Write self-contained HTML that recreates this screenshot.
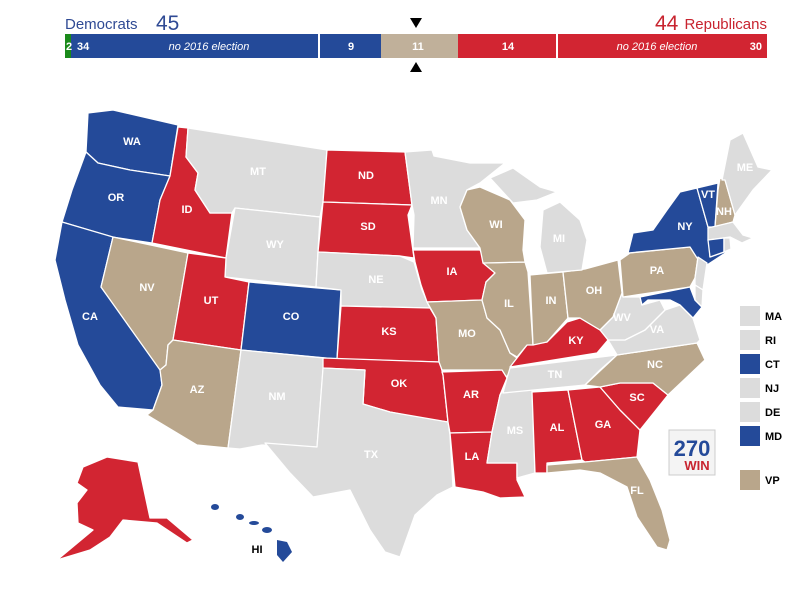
<!DOCTYPE html>
<html><head><meta charset="utf-8"><style>
body{margin:0;width:797px;height:604px;background:#fff;overflow:hidden;font-family:"Liberation Sans",Arial,sans-serif}
.lb{fill:#fff;font-weight:bold;font-size:11px;text-anchor:middle;dominant-baseline:middle}
.s polygon{stroke:#fff;stroke-width:1.3;stroke-linejoin:round}
.b{fill:#244a99}.r{fill:#d22532}.t{fill:#b9a68b}.g{fill:#dcdcdc}
</style></head><body>
<svg width="797" height="604" xmlns="http://www.w3.org/2000/svg">
<text x="65" y="29" font-size="15" fill="#2f4a94">Democrats</text>
<text x="156" y="30" font-size="21" fill="#2f4a94">45</text>
<text x="655" y="30" font-size="21" fill="#c8242f">44</text>
<text x="767" y="29" font-size="15" fill="#c8242f" text-anchor="end">Republicans</text>
<polygon points="410,18 422,18 416,28" fill="#000"/>
<polygon points="410,72 422,72 416,62" fill="#000"/>
<rect x="65" y="34" width="6" height="24" fill="#1a8a1a"/>
<rect x="71" y="34" width="310" height="24" fill="#244a99"/>
<rect x="318" y="34" width="2" height="24" fill="#fff"/>
<rect x="381" y="34" width="77" height="24" fill="#c0b09a"/>
<rect x="458" y="34" width="309" height="24" fill="#d22532"/>
<rect x="556" y="34" width="2" height="24" fill="#fff"/>
<g font-size="11" fill="#fff" font-weight="bold">
<text x="66" y="50">2</text><text x="77" y="50">34</text>
<text x="209" y="50" font-style="italic" font-weight="normal" text-anchor="middle">no 2016 election</text>
<text x="351" y="50" text-anchor="middle">9</text><text x="418" y="50" text-anchor="middle">11</text>
<text x="508" y="50" text-anchor="middle">14</text>
<text x="657" y="50" font-style="italic" font-weight="normal" text-anchor="middle">no 2016 election</text>
<text x="762" y="50" text-anchor="end">30</text></g>
<g class="s">
<polygon class="b" points="88,113 113,110 178,125 170,176 130,170 98,163 86,152"/>
<polygon class="b" points="86,152 98,163 130,170 170,176 160,200 152,243 112,237 62,222 72,190"/>
<polygon class="b" points="62,222 113,237 101,287 160,368 162,385 153,410 118,407 100,385 78,345 65,300 55,260"/>
<polygon class="t" points="113,237 188,253 173,340 168,345 166,365 160,370 101,287"/>
<polygon class="r" points="178,127 188,128 186,157 198,173 195,190 210,213 232,213 226,258 152,243 160,200 170,176"/>
<polygon class="g" points="188,128 327,150 323,202 320,217 235,208 232,213 210,213 195,190 198,173 186,157"/>
<polygon class="g" points="235,208 320,217 316,287 225,277 226,258"/>
<polygon class="r" points="188,253 226,258 225,277 249,282 241,350 173,340"/>
<polygon class="b" points="249,282 341,290 337,359 241,350"/>
<polygon class="t" points="173,340 241,350 228,448 197,445 147,415 153,410 162,385 160,370 166,365 168,345"/>
<polygon class="g" points="241,350 324,358 317,447 262,445 240,449 228,448"/>
<polygon class="r" points="327,150 405,152 412,205 323,202"/>
<polygon class="r" points="323,202 412,205 408,215 414,258 400,256 318,252"/>
<polygon class="g" points="318,252 400,256 414,262 422,290 430,308 341,306 341,290 316,287"/>
<polygon class="r" points="341,306 430,308 436,318 439,362 337,359"/>
<polygon class="r" points="323,358 440,362 443,375 448,422 420,418 390,412 363,404 365,370 323,368"/>
<polygon class="g" points="317,447 323,368 365,370 363,404 390,412 448,422 450,435 453,487 437,495 415,515 400,557 385,552 370,530 350,490 313,497 290,473 265,443"/>
<polygon class="g" points="405,152 432,150 434,156 470,163 505,163 480,183 467,190 460,207 467,230 480,248 413,248 414,215 412,205"/>
<polygon class="r" points="413,250 480,250 486,262 495,273 486,282 482,300 427,302 421,285 415,262"/>
<polygon class="t" points="427,302 482,300 487,318 500,330 510,353 517,358 512,368 506,378 500,370 442,370 439,362 436,318"/>
<polygon class="r" points="442,372 502,370 507,378 500,395 492,432 450,433 448,422 443,375"/>
<polygon class="r" points="450,433 492,432 487,463 517,463 517,480 525,497 500,498 483,492 455,487"/>
<polygon class="g" points="503,390 532,390 535,473 517,478 517,463 487,463 492,432 500,395"/>
<polygon class="g" points="510,368 617,355 600,370 585,385 503,393 507,378"/>
<polygon class="r" points="532,392 568,390 582,460 547,463 547,473 535,473"/>
<polygon class="r" points="568,390 600,387 620,410 640,430 637,457 585,462 582,460"/>
<polygon class="r" points="600,387 620,383 653,383 668,395 640,430 620,410"/>
<polygon class="t" points="547,465 585,462 637,457 650,480 662,510 670,540 667,550 657,547 637,517 627,487 600,473 580,470 547,473"/>
<polygon class="t" points="585,385 617,355 697,343 705,360 668,395 653,383 620,383 600,387"/>
<polygon class="g" points="608,340 625,340 645,330 665,310 680,305 693,318 700,340 697,343 617,355"/>
<polygon class="g" points="613,317 622,293 623,297 640,297 642,305 660,300 665,310 645,330 625,340 608,340 600,330"/>
<polygon class="r" points="517,358 527,345 547,342 567,322 580,318 600,330 608,340 597,353 510,367"/>
<polygon class="t" points="483,263 525,262 528,272 533,345 527,345 517,357 510,353 500,330 487,318 482,300 486,282 495,273"/>
<polygon class="t" points="530,275 563,272 568,318 547,342 533,345"/>
<polygon class="t" points="563,272 585,269 618,260 622,293 613,317 600,330 580,318 568,318"/>
<polygon class="t" points="460,207 467,190 480,187 510,200 525,220 523,250 525,262 483,263 480,248 467,230"/>
<polygon class="g" points="543,210 560,202 580,220 587,240 582,270 547,273 540,247"/>
<polygon class="g" points="490,178 513,168 540,187 557,192 537,200 513,203"/>
<polygon class="t" points="620,260 630,253 690,247 698,257 695,278 690,287 623,297"/>
<polygon class="b" points="628,253 633,233 653,230 667,210 680,192 697,188 708,227 710,257 730,250 707,265 697,258 690,247"/>
<polygon class="b" points="697,188 718,183 715,227 708,227"/>
<polygon class="t" points="720,178 725,180 735,215 733,222 715,227 718,190"/>
<polygon class="g" points="722,180 730,140 743,133 758,167 772,170 753,190 735,215 725,180"/>
<polygon class="g" points="708,228 733,222 743,235 753,238 742,243 730,237 708,240"/>
<polygon class="b" points="708,240 724,238 724,252 710,257"/>
<polygon class="g" points="724,238 730,238 731,249 724,252"/>
<polygon class="g" points="698,257 707,263 703,290 695,285 695,278"/>
<polygon class="b" points="640,297 690,287 695,300 702,307 693,318 680,305 670,300 660,300 648,300 642,305"/>
<polygon class="g" points="695,285 703,290 702,307 695,300"/>
<polygon class="r" points="83,467 107,457 138,462 150,518 167,518 193,540 187,543 157,523 123,520 110,537 90,550 57,560 93,530 78,523 77,503 87,490 77,483"/>
</g>
<g fill="#244a99">
<ellipse cx="215" cy="507" rx="4" ry="3"/><ellipse cx="240" cy="517" rx="4" ry="3"/>
<ellipse cx="254" cy="523" rx="5" ry="2"/><ellipse cx="267" cy="530" rx="5" ry="3"/>
<polygon points="277,540 287,542 292,552 283,562 277,555"/></g>
<text x="257" y="553" font-size="11" fill="#000" text-anchor="middle" font-weight="bold">HI</text>
<g class="lb">
<text x="132" y="142">WA</text><text x="116" y="198">OR</text><text x="90" y="317">CA</text><text x="147" y="288">NV</text>
<text x="187" y="210">ID</text><text x="258" y="172">MT</text><text x="275" y="245">WY</text><text x="211" y="301">UT</text>
<text x="291" y="317">CO</text><text x="197" y="390">AZ</text><text x="277" y="397">NM</text><text x="366" y="176">ND</text>
<text x="368" y="227">SD</text><text x="376" y="280">NE</text><text x="389" y="332">KS</text><text x="399" y="384">OK</text>
<text x="371" y="455">TX</text><text x="439" y="201">MN</text><text x="452" y="272">IA</text><text x="467" y="334">MO</text>
<text x="471" y="395">AR</text><text x="472" y="457">LA</text><text x="496" y="225">WI</text><text x="509" y="304">IL</text>
<text x="551" y="301">IN</text><text x="594" y="291">OH</text><text x="559" y="239">MI</text><text x="576" y="341">KY</text>
<text x="555" y="375">TN</text><text x="515" y="431">MS</text><text x="557" y="428">AL</text><text x="603" y="425">GA</text>
<text x="637" y="398">SC</text><text x="655" y="365">NC</text><text x="637" y="491">FL</text><text x="657" y="271">PA</text>
<text x="685" y="227">NY</text><text x="708" y="195">VT</text><text x="724" y="212">NH</text><text x="745" y="168">ME</text>
<text x="622" y="318">WV</text><text x="657" y="330">VA</text><text x="207" y="495">AK</text></g>
<g font-size="11" font-weight="bold" fill="#000">
<rect x="740" y="306" width="20" height="20" fill="#dcdcdc"/><text x="765" y="320">MA</text>
<rect x="740" y="330" width="20" height="20" fill="#dcdcdc"/><text x="765" y="344">RI</text>
<rect x="740" y="354" width="20" height="20" fill="#244a99"/><text x="765" y="368">CT</text>
<rect x="740" y="378" width="20" height="20" fill="#dcdcdc"/><text x="765" y="392">NJ</text>
<rect x="740" y="402" width="20" height="20" fill="#dcdcdc"/><text x="765" y="416">DE</text>
<rect x="740" y="426" width="20" height="20" fill="#244a99"/><text x="765" y="440">MD</text>
<rect x="740" y="470" width="20" height="20" fill="#b9a68b"/><text x="765" y="484">VP</text></g>
<rect x="669" y="430" width="46" height="45" fill="#f4f4f4" stroke="#ccc"/>
<text x="692" y="456" font-size="22" font-weight="bold" fill="#244a99" text-anchor="middle">270</text>
<text x="697" y="470" font-size="13" font-weight="bold" fill="#c8242f" text-anchor="middle">WIN</text>
</svg></body></html>
